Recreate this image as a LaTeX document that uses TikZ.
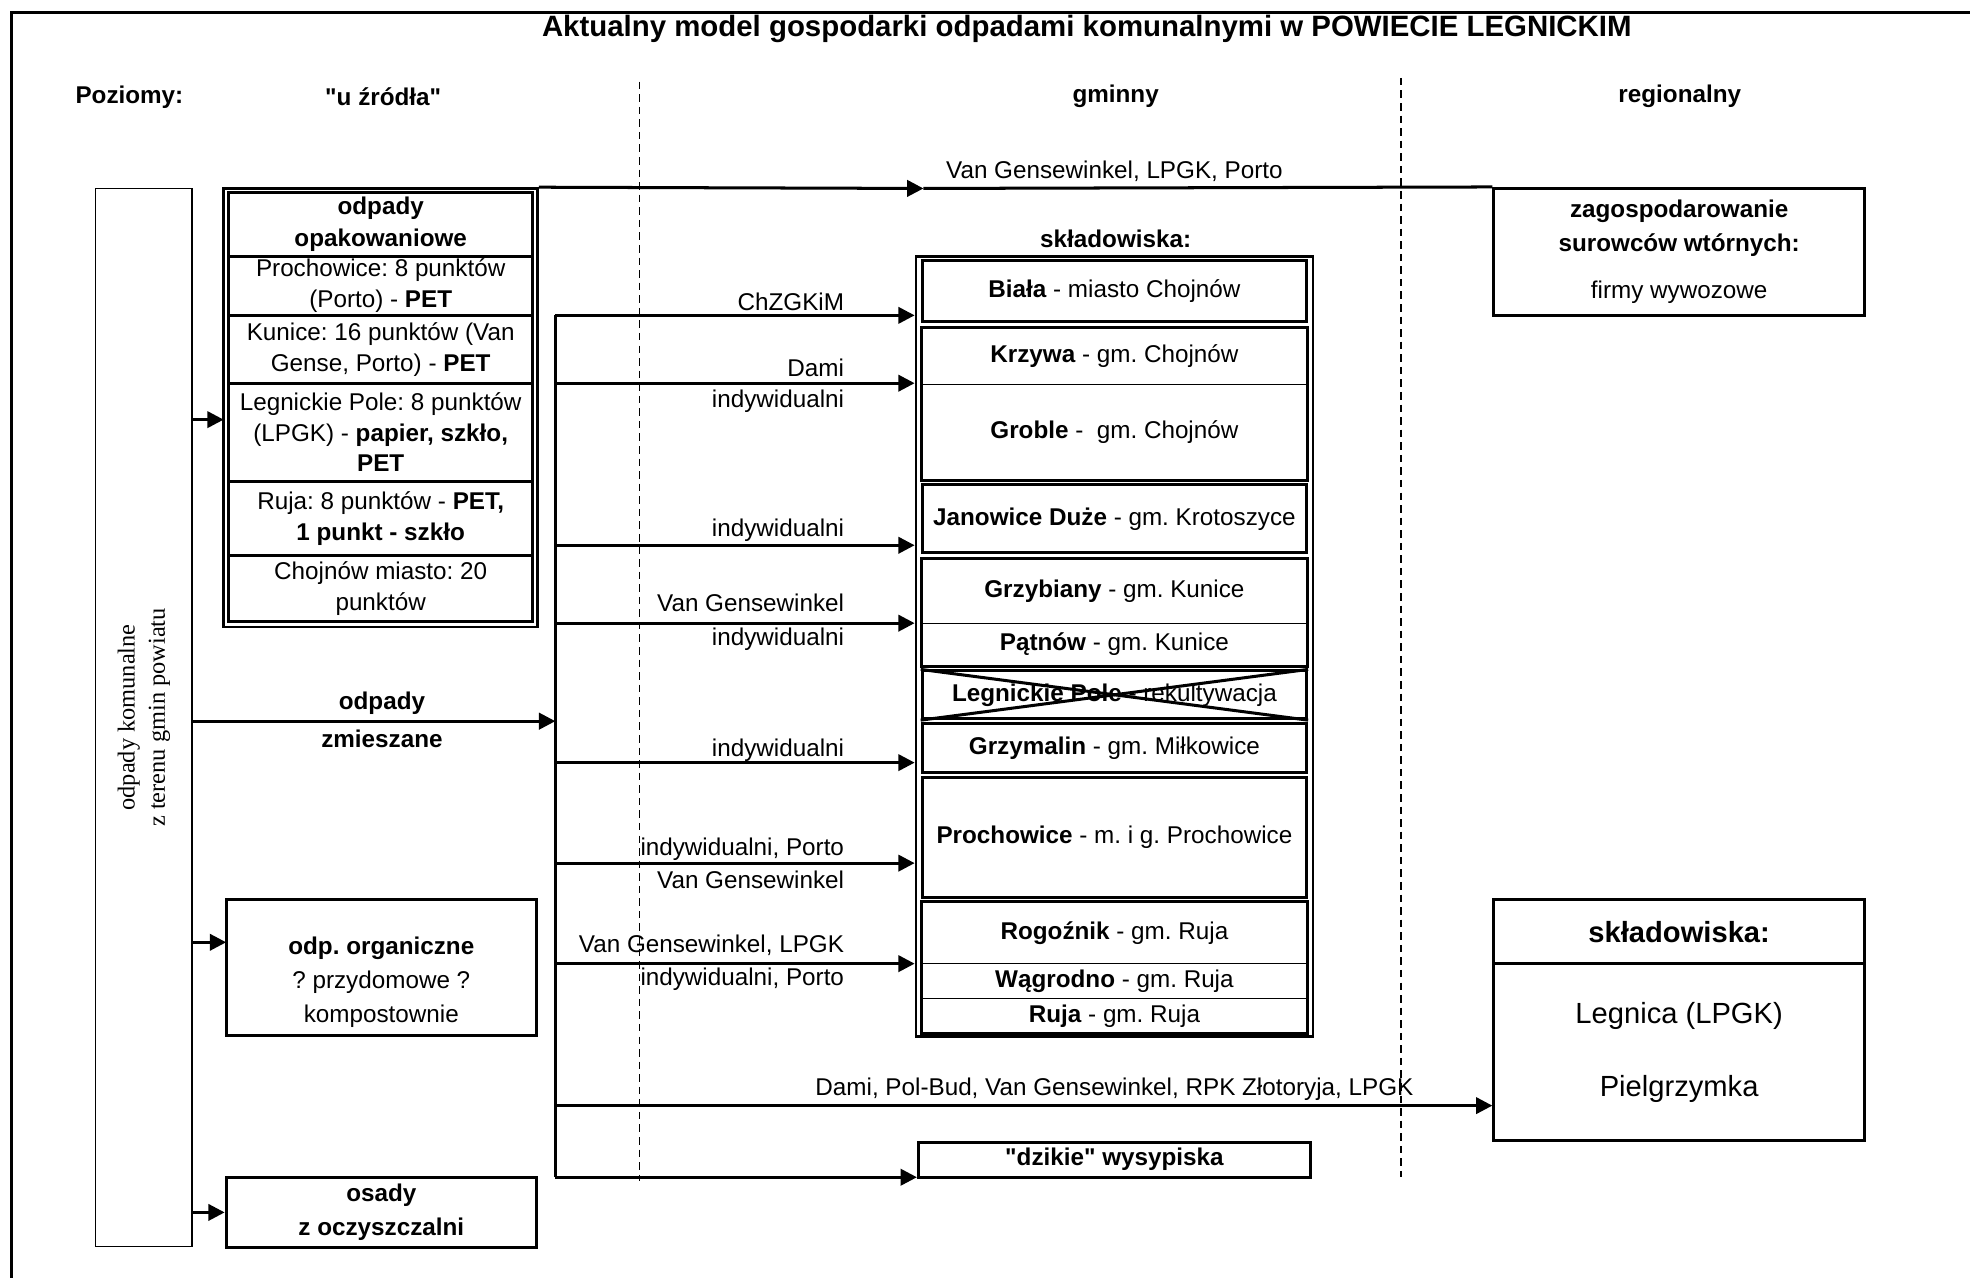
\documentclass[tikz,border=0pt]{standalone}
\usepackage{fontspec}
\setmainfont{Liberation Sans}
\newfontfamily\seriffont{Liberation Serif}
\usetikzlibrary{arrows.meta,fit}
\frenchspacing

\newcommand{\txt}{\fontsize{19.3}{24.5}\selectfont}
\newcommand{\bigtxt}{\fontsize{23.2}{28}\selectfont}
\newcommand{\qt}[1]{\textquotedbl#1\textquotedbl}

\begin{document}
\begin{tikzpicture}[x=1pt, y=-1pt,
  line/.style={line width=2.4pt},
  flow/.style={line width=2.4pt, -{Triangle[length=13pt,width=13pt]}},
  box/.style={draw, line width=2.4pt, inner sep=0pt, align=center, font=\txt},
  cell/.style={draw, line width=1pt, inner sep=0pt, align=center, font=\txt},
  lbl/.style={inner sep=0pt, font=\txt},
  lvl/.style={inner sep=0pt, font=\txt\bfseries},
  sep/.style={line width=1pt, dash pattern=on 6pt off 4pt}]

\useasboundingbox (0,0) rectangle (1568,1017);
\draw[line] (9,1017) -- (9,10) -- (1568,10);

\node[inner sep=0pt, font=\fontsize{23.4}{28}\selectfont\bfseries] (title) at (865,23) {Aktualny model gospodarki odpadami komunalnymi w POWIECIE LEGNICKIM};
\node[lvl] (poziomy) at (103,77) {Poziomy:};
\node[lvl] (uzrodla) at (305,77) {\qt{u źródła}};
\node[lvl] (gminny) at (888,77) {gminny};
\node[lvl] (regionalny) at (1337,77) {regionalny};

\draw[sep] (509,65) -- (509,940);
\draw[sep] (1115,62) -- (1115,937);

% u zrodla
\node[draw, line width=1.2pt, minimum width=842pt, minimum height=77pt, inner sep=0pt, rotate=90,
  align=center, font=\seriffont\fontsize{19.4}{24}\selectfont] (komunalne) at (114.5,571)
  {odpady komunalne\\z terenu gmin powiatu};

\node[draw, line width=2pt, minimum width=250pt, minimum height=349pt, inner sep=0pt] (pkg) at (303,324.5) {};
\node[box, minimum width=242pt, minimum height=51pt, font=\txt\bfseries] (pkghead) at (303,178.5) {odpady\\[1.5pt]opakowaniowe};
\node[box, minimum width=242pt, minimum height=47pt] (pkgproch) at (303,227.5) {Prochowice: 8 punktów\\(Porto) - \textbf{PET}};
\node[box, minimum width=242pt, minimum height=54pt] (pkgkun) at (303,278) {Kunice: 16 punktów (Van\\Gense, Porto) - \textbf{PET}};
\node[box, minimum width=242pt, minimum height=78pt] (pkglp) at (303,344) {Legnickie Pole: 8 punktów\\(LPGK) - \textbf{papier, szkło,}\\\textbf{PET}};
\node[box, minimum width=242pt, minimum height=59pt] (pkgruja) at (303,412.5) {Ruja: 8 punktów - \textbf{PET,}\\\textbf{1 punkt - szkło}};
\node[box, minimum width=242pt, minimum height=53pt] (pkgchoj) at (303,468.5) {Chojnów miasto: 20\\punktów};

\node[box, minimum width=247pt, minimum height=108pt] (organic) at (303.5,770) {};
\node[lbl, align=center] (orgtext) at (303.5,782) {\textbf{odp. organiczne}\\[2.5pt]? przydomowe ?\\[2.5pt]kompostownie};
\node[box, minimum width=247pt, minimum height=56pt, font=\txt\bfseries] (osady) at (303.5,965) {osady\\[2.5pt]z oczyszczalni};

\coordinate (pkgin) at (178,334);
\coordinate (orgin) at (180,750);
\draw[flow] (komunalne.south |- pkgin) -- (pkgin);
\draw[flow] (komunalne.south |- orgin) -- (orgin);
\draw[flow] (komunalne.south |- osady.west) -- (osady.west);

\coordinate (mix) at (442,574);
\draw[flow] (komunalne.south |- mix) -- (mix);
\node[lvl] (mixa) at (304,560) {odpady};
\node[lvl] (mixb) at (304,588) {zmieszane};

% gminny
\node[lvl] (sklg) at (888,190) {składowiska:};
\node[draw, line width=2pt, minimum width=316pt, minimum height=621pt, inner sep=0pt] (skl) at (887,514.5) {};
\node[box, minimum width=306pt, minimum height=49pt] (biala) at (887,231.5) {\textbf{Biała} - miasto Chojnów};
\node[cell, minimum width=306pt, minimum height=45pt] (krzywa) at (887,283.5) {\textbf{Krzywa} - gm. Chojnów};
\node[cell, minimum width=306pt, minimum height=76pt] (groble) at (887,344) {\textbf{Groble} - \ gm. Chojnów};
\node[box, fit=(krzywa)(groble)] (chojgrp) {};
\node[box, minimum width=306pt, minimum height=54pt] (janowice) at (887,413) {\textbf{Janowice Duże} - gm. Krotoszyce};
\node[cell, minimum width=306pt, minimum height=51pt] (grzybiany) at (887,470.5) {\textbf{Grzybiany} - gm. Kunice};
\node[cell, minimum width=306pt, minimum height=34pt] (patnow) at (887,513) {\textbf{Pątnów} - gm. Kunice};
\node[box, fit=(grzybiany)(patnow)] (kungrp) {};
\node[box, minimum width=306pt, minimum height=38pt] (lpole) at (887,553) {\textbf{Legnickie Pole} - rekultywacja};
\draw[line] (lpole.north west) -- (lpole.south east);
\draw[line] (lpole.south west) -- (lpole.north east);
\node[box, minimum width=306pt, minimum height=39pt] (grzymalin) at (887,595.5) {\textbf{Grzymalin} - gm. Miłkowice};
\node[box, minimum width=306pt, minimum height=95pt] (prochowice) at (887,666.5) {\textbf{Prochowice} - m. i g. Prochowice};
\node[cell, minimum width=306pt, minimum height=49pt] (rogoznik) at (887,742.5) {\textbf{Rogoźnik} - gm. Ruja};
\node[cell, minimum width=306pt, minimum height=28pt] (wagrodno) at (887,781) {\textbf{Wągrodno} - gm. Ruja};
\node[cell, minimum width=306pt, minimum height=27pt] (rujag) at (887,808.5) {\textbf{Ruja} - gm. Ruja};
\node[box, fit=(rogoznik)(rujag)] (rujagrp) {};
\node[box, minimum width=312pt, minimum height=28pt, font=\txt\bfseries] (dzikie) at (887,923) {\qt{dzikie} wysypiska};

% regionalny
\node[box, minimum width=295pt, minimum height=101pt] (zag) at (1336.5,200.5)
  {\textbf{zagospodarowanie}\\[2.5pt]\textbf{surowców wtórnych:}\\[12.5pt]firmy wywozowe};
\node[box, minimum width=295pt, minimum height=51pt, font=\bigtxt\bfseries] (reghead) at (1336.5,741.5) {składowiska:};
\node[box, minimum width=295pt, minimum height=141pt, font=\bigtxt] (regbody) at (1336.5,837.5) {Legnica (LPGK)\\[30pt]Pielgrzymka};

\coordinate (topmid) at (735,150);
\draw[flow] (pkg.north east) -- (topmid);
\draw[line] (topmid) -- (zag.north west);
\node[lbl] (toplbl) at (887,136) {Van Gensewinkel, LPGK, Porto};

% rozdzial odpadow zmieszanych
\coordinate (b1) at (442,251);
\coordinate (b2) at (442,305);
\coordinate (b3) at (442,434);
\coordinate (b4) at (442,496);
\coordinate (b5) at (442,607);
\coordinate (b6) at (442,687);
\coordinate (b7) at (442,767);
\coordinate (b8) at (442,880);
\coordinate (b9) at (442,937);
\draw[line] (b1) -- (b9);
\draw[flow] (b1) -- (skl.west |- b1);
\draw[flow] (b2) -- (skl.west |- b2);
\draw[flow] (b3) -- (skl.west |- b3);
\draw[flow] (b4) -- (skl.west |- b4);
\draw[flow] (b5) -- (skl.west |- b5);
\draw[flow] (b6) -- (skl.west |- b6);
\draw[flow] (b7) -- (skl.west |- b7);
\draw[flow] (b8) -- (regbody.west |- b8);
\draw[flow] (b9) -- (dzikie.west |- b9);

\node[lbl, anchor=east] (l1) at (672,240) {ChZGKiM};
\node[lbl, anchor=east] (l2a) at (672,293) {Dami};
\node[lbl, anchor=east] (l2b) at (672,319) {indywidualni};
\node[lbl, anchor=east] (l3) at (672,422) {indywidualni};
\node[lbl, anchor=east] (l4a) at (672,480) {Van Gensewinkel};
\node[lbl, anchor=east] (l4b) at (672,509) {indywidualni};
\node[lbl, anchor=east] (l5) at (672,597) {indywidualni};
\node[lbl, anchor=east] (l6a) at (672,676) {indywidualni, Porto};
\node[lbl, anchor=east] (l6b) at (672,700) {Van Gensewinkel};
\node[lbl, anchor=east] (l7a) at (672,752) {Van Gensewinkel, LPGK};
\node[lbl, anchor=east] (l7b) at (672,779) {indywidualni, Porto};
\node[lbl] (l8) at (887,867) {Dami, Pol-Bud, Van Gensewinkel, RPK Złotoryja, LPGK};

\end{tikzpicture}
\end{document}
